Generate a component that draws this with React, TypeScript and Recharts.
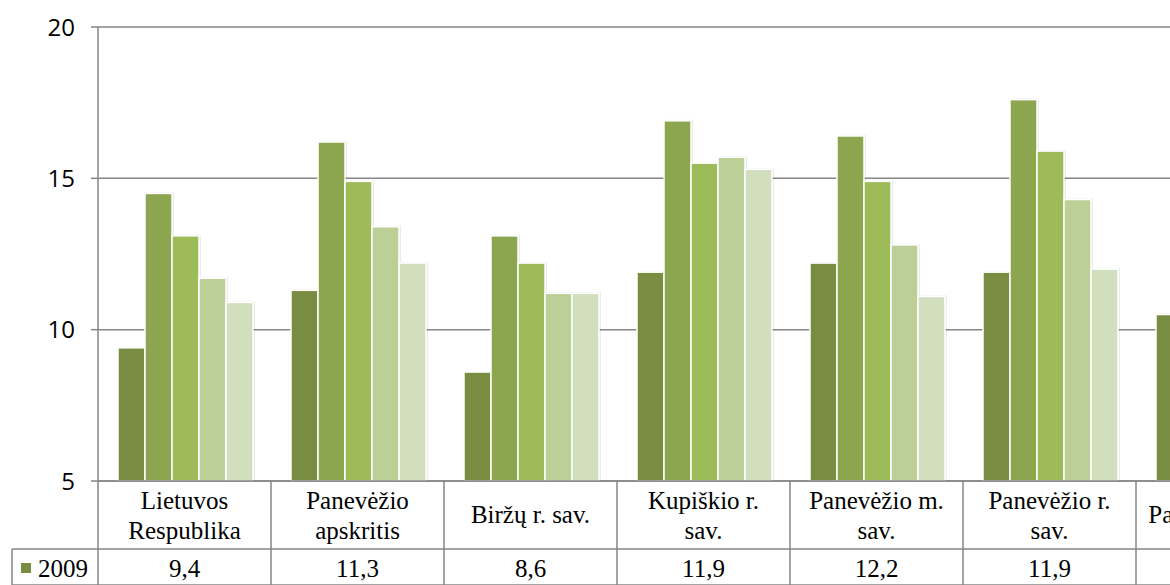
import React from 'react'
import { Bar, BarChart, CartesianGrid, XAxis, YAxis } from 'recharts'

// categories (line breaks = wrapping in the data table)
const categories = [
  'Lietuvos\nRespublika',
  'Panevėžio\napskritis',
  'Biržų r. sav.',
  'Kupiškio r.\nsav.',
  'Panevėžio m.\nsav.',
  'Panevėžio r.\nsav.',
  'Pasvalio r. sav.',
  'Rokiškio r. sav.',
]

const years = ['2009', '2010', '2011', '2012', '2013']

const v2009 = [9.4, 11.3, 8.6, 11.9, 12.2, 11.9, 10.5, 12.6]
const v2010 = [14.5, 16.2, 13.1, 16.9, 16.4, 17.6, 14.9, 17.2]
const v2011 = [13.1, 14.9, 12.2, 15.5, 14.9, 15.9, 14.0, 15.8]
const v2012 = [11.7, 13.4, 11.2, 15.7, 12.8, 14.3, 12.6, 14.6]
const v2013 = [10.9, 12.2, 11.2, 15.3, 11.1, 12.0, 11.8, 13.5]

const yTicks = [5, 10, 15, 20]

const seriesValues = [v2009, v2010, v2011, v2012, v2013]
const colors = ['#788D42', '#8CA54F', '#9EBB5A', '#BBCF97', '#D2DFBF']

const data = categories.map((name, i) => {
  const row: Record<string, string | number> = { name }
  years.forEach((yr, s) => {
    row[yr] = seriesValues[s][i]
  })
  return row
})

const BAND = 173
const ROW_H = 36
const GRID = '#868686'
const SERIF = '"Liberation Serif", "Times New Roman", serif'

const fmt = (v: number) => v.toFixed(1).replace('.', ',')

function ShadowBar(props: any) {
  const { x, y, width, height, fill } = props
  if (!height || height <= 0) return null
  return (
    <g>
      <rect x={x + 2} y={y - 1} width={width} height={height + 1} fill="rgba(0,0,0,0.08)" />
      <rect x={x} y={y} width={width} height={height} fill={fill} stroke="#fff" strokeWidth={1.5} />
    </g>
  )
}

function TableTick(props: any) {
  const { x, y, payload, index } = props
  const left = x - BAND / 2
  const lines: string[] = String(payload.value).split('\n')
  const rowTop = y + 68
  const bottom = rowTop + ROW_H * years.length

  return (
    <g>
      <line x1={left} y1={y} x2={left} y2={bottom} stroke={GRID} strokeWidth={1.5} />
      {index === categories.length - 1 && (
        <line x1={left + BAND} y1={y} x2={left + BAND} y2={bottom} stroke={GRID} strokeWidth={1.5} />
      )}
      {lines.map((ln, k) => (
        <text
          key={k}
          x={x}
          y={lines.length === 1 ? y + 42 : y + 28 + k * 30}
          textAnchor="middle"
          fontFamily={SERIF}
          fontSize={25}
          fill="#000"
        >
          {ln}
        </text>
      ))}
      {years.map((yr, r) => (
        <g key={yr}>
          <line
            x1={index === 0 ? 12 : left}
            y1={rowTop + r * ROW_H}
            x2={left + BAND}
            y2={rowTop + r * ROW_H}
            stroke={GRID}
            strokeWidth={1.5}
          />
          <text
            x={x}
            y={rowTop + 28 + r * ROW_H}
            textAnchor="middle"
            fontFamily={SERIF}
            fontSize={25}
            fill="#000"
          >
            {fmt(seriesValues[r][index])}
          </text>
          {index === 0 && (
            <>
              <rect x={21} y={rowTop + 14 + r * ROW_H} width={10} height={10} fill={colors[r]} />
              <text x={38} y={rowTop + 28 + r * ROW_H} fontFamily={SERIF} fontSize={25} fill="#000">
                {yr}
              </text>
            </>
          )}
        </g>
      ))}
      {index === 0 && (
        <line x1={12} y1={rowTop} x2={12} y2={bottom} stroke={GRID} strokeWidth={1.5} />
      )}
    </g>
  )
}

export default function App() {
  return (
    <div
      style={{
        position: 'fixed',
        left: 0,
        top: 0,
        width: 1170,
        height: 585,
        overflow: 'hidden',
        background: '#fff',
      }}
    >
      <BarChart
        width={1490}
        height={700}
        data={data}
        margin={{ top: 27, right: 8, left: 0, bottom: 0 }}
        barCategoryGap={20}
        barGap={0}
      >
        <CartesianGrid horizontal vertical={false} stroke={GRID} strokeWidth={1.5} />
        <XAxis
          dataKey="name"
          interval={0}
          height={219}
          tickLine={false}
          tickSize={0}
          tickMargin={0}
          axisLine={{ stroke: GRID, strokeWidth: 1.5 }}
          tick={<TableTick />}
        />
        <YAxis
          width={98}
          domain={[5, 20]}
          ticks={yTicks}
          allowDataOverflow
          tickSize={7}
          tickMargin={16}
          tickLine={{ stroke: GRID, strokeWidth: 1.5 }}
          axisLine={{ stroke: GRID, strokeWidth: 1.5 }}
          tick={{ fill: '#000', fontSize: 24, fontFamily: '"Open Sans", sans-serif' }}
        />
        {years.map((yr, s) => (
          <Bar
            key={yr}
            dataKey={yr}
            fill={colors[s]}
            shape={<ShadowBar />}
            isAnimationActive={false}
          />
        ))}
      </BarChart>
    </div>
  )
}
